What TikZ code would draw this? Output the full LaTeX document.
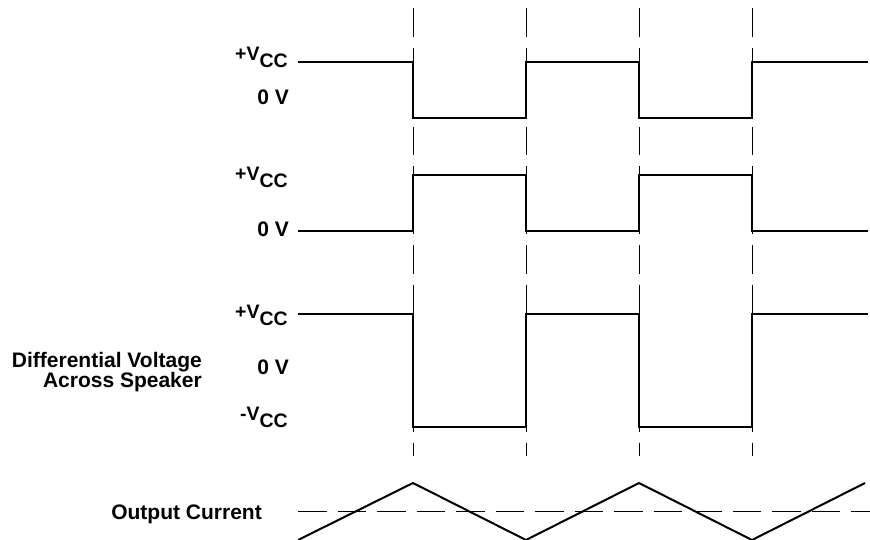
\documentclass[tikz,border=0pt]{standalone}
\usepackage{fontspec}
\setmainfont{Liberation Sans}
\begin{document}
\begin{tikzpicture}[x=1pt,y=-1pt,
    wave/.style={line width=2.4pt,line join=miter},
    guide/.style={line width=1pt,dash pattern=on 28.5pt off 11pt},
    lbl/.style={inner sep=0pt,anchor=base east,font=\bfseries\fontsize{21}{24}\selectfont},
    vlbl/.style={inner sep=0pt,anchor=base east,font=\bfseries\fontsize{19.5}{22}\selectfont}]

  \useasboundingbox (0,0) rectangle (870,539);

  % switching instants
  \foreach \t in {413,526,639,752}
    \draw[guide] (\t,8) -- (\t,456);

  % output A
  \draw[wave] (298,62) -- (413,62) -- (413,118) -- (526,118) -- (526,62)
    -- (639,62) -- (639,118) -- (752,118) -- (752,62) -- (868,62);
  % output B
  \draw[wave] (298,231) -- (413,231) -- (413,175) -- (526,175) -- (526,231)
    -- (639,231) -- (639,175) -- (752,175) -- (752,231) -- (868,231);
  % differential
  \draw[wave] (298,314) -- (413,314) -- (413,427) -- (526,427) -- (526,314)
    -- (639,314) -- (639,427) -- (752,427) -- (752,314) -- (868,314);

  % current
  \draw[guide] (298,511) -- (870,511);
  \draw[line width=2pt] (298,540) -- (413,483) -- (526,540) -- (639,483)
    -- (752,540) -- (865,483);

  \begin{scope}[every node/.style={vlbl}]
    \node (vccA)  at (288,60)  {+V\raisebox{-7pt}{CC}};
    \node (vccB)  at (288,180) {+V\raisebox{-7pt}{CC}};
    \node (vccD)  at (288,318) {+V\raisebox{-7pt}{CC}};
    \node (nvccD) at (288,420) {-V\raisebox{-7pt}{CC}};
  \end{scope}

  \begin{scope}[every node/.style={lbl}]
    \node (zeroA) at (289,104) {0 V};
    \node (zeroB) at (289,236) {0 V};
    \node (zeroD) at (289,374) {0 V};
    \node (diff1) at (202,367) {Differential Voltage};
    \node (diff2) at (202,387) {Across Speaker};
    \node (iout)  at (262,519) {Output Current};
  \end{scope}

\end{tikzpicture}
\end{document}
